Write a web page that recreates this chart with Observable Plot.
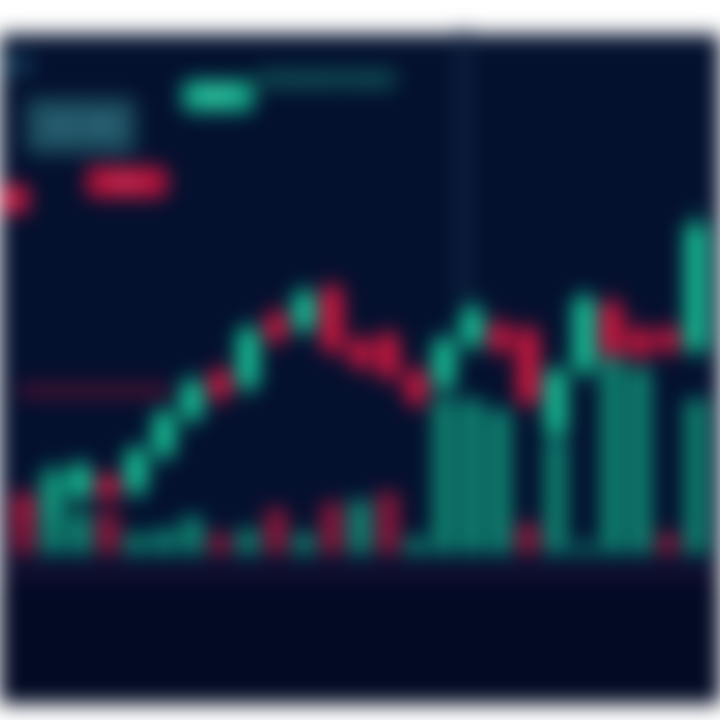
<!DOCTYPE html>
<html>
<head>
<meta charset="utf-8">
<script src="https://cdn.jsdelivr.net/npm/d3@7"></script>
<script src="https://cdn.jsdelivr.net/npm/@observablehq/plot@0.6"></script>
<style>
  html, body { margin: 0; padding: 0; background: #ffffff; }
  #wrap { position: absolute; left: 0; top: 0; width: 720px; height: 720px; overflow: hidden; filter: blur(10px); background:#fff; }
  #dark { position: absolute; left: -20px; top: 34px; width: 760px; height: 656px; background: #03102e; }
  #lower { position: absolute; left: -20px; top: 566px; width: 760px; height: 124px; background: #020a24; border-top: 14px solid #140f30; }
  .layer { position: absolute; left: 0; top: 36px; }
  .badge { position: absolute; font-family: "DejaVu Sans", sans-serif; font-weight: bold; white-space: nowrap; border-radius: 8px; text-align: center; box-sizing: border-box; overflow: hidden; }
</style>
</head>
<body>
<div id="wrap">
  <div id="dark"></div>
  <div id="lower"></div>
  <div id="price" class="layer"></div>
  <div id="volume" class="layer"></div>
  <div class="badge" style="left:0px;top:52px;width:34px;height:26px;line-height:26px;font-size:11px;background:#0c2a46;color:#2a5a7a;">BTC</div>
  <div class="badge" style="left:182px;top:80px;width:72px;height:32px;line-height:32px;font-size:15px;background:#14a888;color:#5fe0bf;">BUY</div>
  <div class="badge" style="left:254px;top:68px;width:145px;height:22px;line-height:22px;font-size:12px;background:#0b3c46;color:#1c6e70;">27,415.80 +2.45%</div>
  <div class="badge" style="left:26px;top:98px;width:110px;height:56px;line-height:56px;font-size:22px;background:#1d4e60;color:#3b8090;">1H 4H</div>
  <div class="badge" style="left:86px;top:166px;width:82px;height:32px;line-height:32px;font-size:15px;background:#b3123a;color:#e8506e;">SELL</div>
  <div class="badge" style="left:0px;top:184px;width:30px;height:30px;line-height:30px;font-size:14px;background:#b8143c;color:#e8506e;">▼</div>
</div>
<script>
// candle index (time order)
const idx = d3.range(25);
// open / close / high / low (price units)
const open  = [11.5, 8, 12, 16, 13, 20, 27, 36, 33, 47, 44, 52, 42, 43, 36, 33, 41, 45, 44, 24, 36, 49, 44, 44, 40];
const close = [7.6, 17, 18, 12, 21, 28, 34, 31, 44, 42, 51, 40, 37, 35, 30, 42, 48, 40, 30, 36, 50, 39, 39, 40, 64];
const high  = [13, 19, 20, 17, 23, 30, 36, 38, 46, 49, 53, 54, 44, 45, 38, 44, 50, 47, 46, 38, 52, 51, 46, 46, 67];
const low   = [6, 6, 10, 10, 11, 18, 25, 29, 31, 40, 42, 38, 35, 33, 28, 31, 39, 38, 28, 22, 34, 37, 37, 38, 38];
// volume and its colour side (1 = buy, 0 = sell)
const volume   = [30, 40, 20, 20, 10, 12, 18, 10, 12, 22, 10, 25, 26, 30, 8, 75, 75, 70, 15, 55, 5, 95, 90, 10, 75];
const volumeUp = [0, 1, 1, 0, 1, 1, 1, 0, 1, 0, 1, 0, 1, 0, 1, 1, 1, 1, 0, 1, 1, 1, 1, 0, 1];
// support price line and crosshair
const supportLevel = 32.4;
const crosshairIdx = 15;

const GREEN = "#17c79a", RED = "#d4173f";
const candles = idx.map(i => ({i, open: open[i], close: close[i], high: high[i], low: low[i], up: close[i] >= open[i]}));
const vols = idx.map(i => ({i, v: volume[i], up: volumeUp[i] === 1}));

const priceChart = Plot.plot({
  width: 720, height: 524, margin: 0,
  style: {background: "transparent", overflow: "visible"},
  x: {type: "band", domain: idx, padding: 0.22, axis: null},
  y: {domain: [0, 100], axis: null},
  marks: [
    Plot.ruleX([crosshairIdx], {dx: 19, y1: 50, y2: 101, stroke: "#0d2440", strokeWidth: 14}),
    Plot.lineY(idx.slice(0, 6).map(i => ({i, p: supportLevel})), {x: "i", y: "p", stroke: "#4a1030", strokeWidth: 14}),
    Plot.ruleX(candles, {x: "i", y1: "low", y2: "high", stroke: d => d.up ? GREEN : RED, strokeWidth: 3}),
    Plot.barY(candles, {x: "i", y1: "open", y2: "close", fill: d => d.up ? GREEN : RED})
  ]
});
document.getElementById("price").appendChild(priceChart);

const volumeChart = Plot.plot({
  width: 720, height: 524, margin: 0, marginBottom: 6,
  style: {background: "transparent"},
  x: {type: "band", domain: idx, padding: 0.2, axis: null},
  y: {domain: [0, 250], axis: null},
  marks: [
    Plot.barY(vols, {x: "i", y: "v", fill: d => d.up ? "#129e80" : "#a8183c", fillOpacity: 0.85})
  ]
});
document.getElementById("volume").appendChild(volumeChart);
</script>
</body>
</html>
